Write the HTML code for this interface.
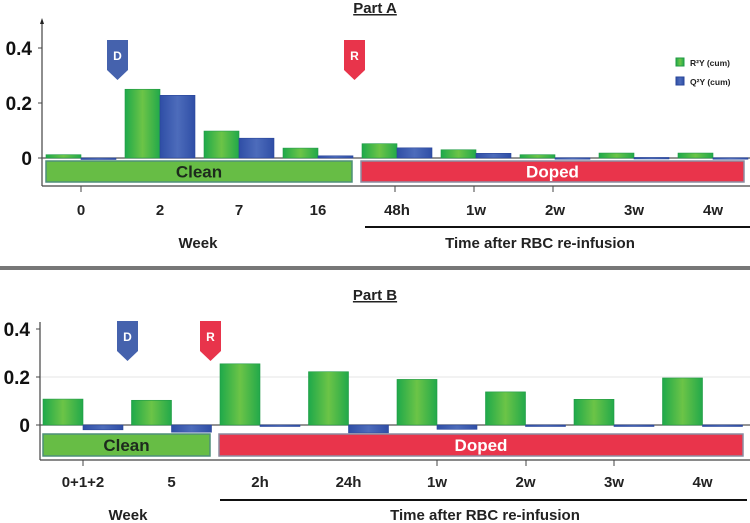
<!DOCTYPE html>
<html><head><meta charset="utf-8"><style>
html,body{margin:0;padding:0;background:#fff;width:750px;height:523px;overflow:hidden}
svg text{font-family:"Liberation Sans",sans-serif;font-weight:bold}
</style></head><body>
<svg id="c" width="750" height="523" viewBox="0 0 750 523" xmlns="http://www.w3.org/2000/svg">
<defs>
<linearGradient id="gg" x1="0" x2="1"><stop offset="0" stop-color="#1ea94a"/><stop offset="0.5" stop-color="#6cc447"/><stop offset="1" stop-color="#22a94a"/></linearGradient>
<linearGradient id="bg" x1="0" x2="1"><stop offset="0" stop-color="#2f4ea6"/><stop offset="0.5" stop-color="#4d6cbb"/><stop offset="1" stop-color="#2f4ea6"/></linearGradient>
</defs>
<g id="root"></g>
</svg>
<script>
const catsA = ["0","2","7","16","48h","1w","2w","3w","4w"];
const r2A = [0.012,0.25,0.098,0.036,0.052,0.03,0.012,0.018,0.018];
const q2A = [-0.004,0.228,0.072,0.008,0.037,0.017,0.001,0.002,0.001];
const catsB = ["0+1+2","5","2h","24h","1w","2w","3w","4w"];
const r2B = [0.108,0.103,0.255,0.222,0.19,0.138,0.107,0.196];
const q2B = [-0.02,-0.03,-0.002,-0.033,-0.018,-0.004,-0.005,-0.005];
const yTicks = [0,0.2,0.4];
const yTickLabels = ["0","0.2","0.4"];

const NS="http://www.w3.org/2000/svg";
const root=document.getElementById('root');
function mk(tag,attrs,parent,txt){const e=document.createElementNS(NS,tag);for(const k in attrs)e.setAttribute(k,attrs[k]);if(txt!==undefined)e.textContent=txt;(parent||root).appendChild(e);return e;}

function marker(x,y,color,letter,name){
  const g=mk('g',{});
  
  
  mk('path',{d:`M${x} ${y} h21 v30 l-10.5 10 l-10.5 -10 z`,fill:color},g);
  mk('text',{x:x+10.5,y:y+20,'text-anchor':'middle','font-size':12,fill:'#fff'},g,letter);
}

function panel(o){
  const g=mk('g',{});
  
  
  const y=v=>o.y0-v*o.scale;
  const t=mk('text',{x:375,y:o.titleY,'text-anchor':'middle','font-size':15,fill:'#222','text-decoration':'underline'},g,o.title);
  
  
  if(o.grid){const gl=mk('line',{x1:o.axisX,x2:750,y1:y(0.2),y2:y(0.2),stroke:'#e6e6e6'},g);
    }
  // y axis
  const ax=mk('line',{x1:o.axisX,x2:o.axisX,y1:o.axisTop,y2:o.axisBot,stroke:'#444','stroke-width':1.2},g);
  
  yTicks.forEach((v,i)=>{
    const tl=mk('text',{x:o.axisX-10,y:y(v)+7,'text-anchor':'end','font-size':19,fill:'#111'},g,yTickLabels[i]);
    
    mk('line',{x1:o.axisX-4,x2:o.axisX,y1:y(v),y2:y(v),stroke:'#444'},g);
  });
  // zero line
  mk('line',{x1:o.axisX,x2:750,y1:y(0),y2:y(0),stroke:'#555','stroke-width':1.2},g);
  // x axis
  const xa=mk('line',{x1:o.axisX,x2:750,y1:o.axisBot,y2:o.axisBot,stroke:'#444','stroke-width':1.2},g);
  
  // bars
  o.cats.forEach((c,i)=>{
    const cx=o.c0+i*o.step;
    const vr=o.r2[i], vq=o.q2[i];
    const br=mk('rect',{x:cx-o.bw,y:Math.min(y(vr),y(0)),width:o.bw,height:Math.max(1.5,Math.abs(y(vr)-y(0))),fill:'url(#gg)',stroke:'#1f9a45','stroke-width':0.6},g);
    
    const bq=mk('rect',{x:cx,y:Math.min(y(vq),y(0)),width:o.bw,height:Math.max(1.5,Math.abs(y(vq)-y(0))),fill:'url(#bg)',stroke:'#2a469a','stroke-width':0.6},g);
    
    const lb=mk('text',{x:cx,y:o.labY,'text-anchor':'middle','font-size':15,fill:'#222'},g,c);
    
  });
  o.ticks.forEach(tx=>mk('line',{x1:tx,x2:tx,y1:o.axisBot,y2:o.axisBot+6,stroke:'#444'},g));
  // bands
  const cb=mk('rect',{x:o.clean[0],y:o.band[0],width:o.clean[1]-o.clean[0],height:o.band[1],fill:'#67bd45',stroke:'#4f8f7a','stroke-width':1.5},g);
  
  mk('text',{x:(o.clean[0]+o.clean[1])/2,y:o.band[0]+o.band[1]/2+6,'text-anchor':'middle','font-size':17,fill:'#1d2a1d'},g,'Clean');
  const db=mk('rect',{x:o.doped[0],y:o.band[0],width:o.doped[1]-o.doped[0],height:o.band[1],fill:'#e9344b',stroke:'#8c8ca0','stroke-width':1.5},g);
  
  mk('text',{x:(o.doped[0]+o.doped[1])/2,y:o.band[0]+o.band[1]/2+6,'text-anchor':'middle','font-size':17,fill:'#fff'},g,'Doped');
  // x titles
  const wk=mk('text',{x:o.weekX,y:o.xtY,'text-anchor':'middle','font-size':15,fill:'#222'},g,'Week');
  
  mk('line',{x1:o.timeLine[0],x2:o.timeLine[1],y1:o.timeLineY,y2:o.timeLineY,stroke:'#111','stroke-width':2},g);
  const tt=mk('text',{x:o.timeX,y:o.xtY,'text-anchor':'middle','font-size':15,fill:'#222'},g,'Time after RBC re-infusion');
  
  marker(o.dX,o.mY,'#4562ad','D','dosing-marker');
  marker(o.rX,o.mY,'#e8344b','R','reinfusion-marker');
}

panel({name:'part-a',title:'Part A',titleY:13,y0:158,scale:275,axisX:42,axisTop:22,axisBot:186,grid:false,
  cats:catsA,r2:r2A,q2:q2A,c0:81,step:79,bw:35,labY:215,ticks:[81,395,474,553],
  clean:[46,352],doped:[361,744],band:[161,21],weekX:198,xtY:248,timeLine:[365,750],timeLineY:227,timeX:540,dX:107,rX:344,mY:40});
panel({name:'part-b',title:'Part B',titleY:300,y0:425,scale:240,axisX:40,axisTop:322,axisBot:460,grid:true,
  cats:catsB,r2:r2B,q2:q2B,c0:83,step:88.5,bw:40,labY:487,ticks:[83,437,526,614],
  clean:[43,210],doped:[219,743],band:[434,22],weekX:128,xtY:520,timeLine:[220,747],timeLineY:500,timeX:485,dX:117,rX:200,mY:321});

// legend
const lg=mk('g',{});


mk('rect',{x:676,y:58,width:8,height:8,fill:'url(#gg)',stroke:'#1f9a45'},lg);
mk('text',{x:690,y:66,'font-size':8.5,fill:'#222'},lg,'R²Y (cum)');
mk('rect',{x:676,y:77,width:8,height:8,fill:'url(#bg)',stroke:'#2a469a'},lg);
mk('text',{x:690,y:85,'font-size':8.5,fill:'#222'},lg,'Q²Y (cum)');
// separator
const sp=mk('rect',{x:0,y:266,width:750,height:4,fill:'#777'});


mk('path',{d:'M42 18 l-2 6 h4 z',fill:'#222'});
</script>
</body></html>
